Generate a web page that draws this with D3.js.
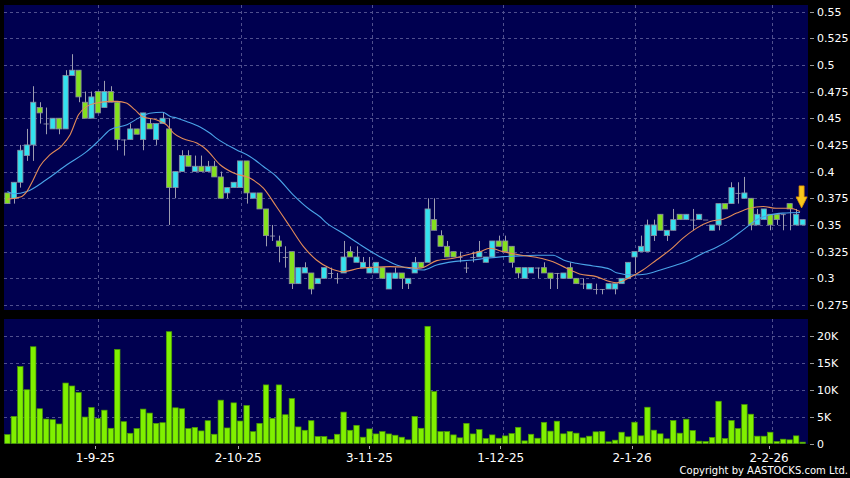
<!DOCTYPE html>
<html>
<head>
<meta charset="utf-8">
<script src="https://cdn.jsdelivr.net/npm/d3@7/dist/d3.min.js"></script>
<style>
  body { margin: 0; background: #000; }
  svg { display: block; }
</style>
</head>
<body>
<script>
// daily bars, oldest first
const opens = [
  .38, .375, .39, .415, .425, .46, .445, .44, .45, .44,
  .49, .495, .465, .45, .475, .46, .475, .465, .43, .43,
  .44, .43, .445, .43, .445, .44, .385, .4, .415, .4,
  .405, .4, .405, .395, .38, .385, .385, .41, .375, .38,
  .365, .34, .335, .32, .325, .295, .305, .305, .295, .3,
  .305, .3, .305, .325, .315, .31, .305, .305, .31, .29,
  .3, .305, .295, .305, .315, .315, .355, .34, .33, .325,
  .32, .31, .32, .32, .315, .32, .335, .335, .33, .31,
  .3, .305, .31, .31, .305, .305, .3, .31, .3, .295,
  .29, .29, .29, .29, .29, .295, .3, .32, .325, .325,
  .34, .36, .34, .345, .36, .355, .355, .355, .355, .345,
  .35, .37, .37, .38, .375, .375, .35, .355, .36, .36,
  .36, .37, .35, .35
]
const closes = [
  .37, .39, .42, .425, .465, .455, .445, .45, .44, .49,
  .495, .47, .45, .47, .455, .475, .465, .43, .43, .44,
  .435, .455, .44, .445, .45, .385, .4, .415, .405, .405,
  .4, .405, .395, .375, .385, .39, .41, .38, .38, .365,
  .34, .34, .33, .32, .295, .31, .31, .29, .3, .31,
  .305, .3, .32, .32, .32, .315, .31, .315, .3, .305,
  .305, .3, .3, .315, .31, .365, .345, .33, .32, .32,
  .32, .31, .32, .325, .32, .335, .33, .325, .315, .305,
  .31, .31, .31, .305, .3, .305, .305, .3, .295, .295,
  .295, .29, .29, .295, .295, .3, .315, .325, .33, .35,
  .35, .345, .345, .355, .355, .36, .355, .36, .355, .35,
  .37, .365, .385, .38, .38, .35, .36, .365, .35, .355,
  .36, .365, .36, .355
]
const highs = [
  .38, .39, .425, .44, .48, .465, .46, .45, .45, .495,
  .51, .495, .475, .475, .475, .485, .48, .465, .43, .445,
  .44, .455, .45, .445, .455, .45, .4, .42, .42, .415,
  .415, .41, .41, .4, .385, .39, .41, .41, .38, .38,
  .365, .35, .34, .33, .325, .31, .315, .305, .3, .31,
  .31, .305, .335, .33, .33, .32, .32, .315, .31, .305,
  .31, .305, .3, .32, .315, .375, .375, .345, .335, .325,
  .325, .315, .325, .335, .32, .335, .34, .34, .33, .31,
  .31, .31, .31, .315, .305, .305, .305, .315, .3, .3,
  .295, .295, .29, .295, .295, .3, .315, .325, .34, .355,
  .355, .36, .345, .365, .36, .36, .365, .36, .355, .35,
  .37, .37, .39, .39, .395, .375, .365, .365, .36, .36,
  .36, .37, .365, .355
]
const lows = [
  .37, .37, .385, .41, .41, .445, .435, .44, .435, .44,
  .49, .465, .45, .45, .455, .46, .465, .42, .415, .43,
  .435, .42, .44, .425, .445, .35, .375, .4, .405, .4,
  .4, .4, .395, .375, .375, .385, .385, .37, .375, .365,
  .33, .335, .315, .31, .29, .295, .305, .285, .295, .3,
  .3, .295, .305, .32, .315, .31, .305, .305, .3, .29,
  .3, .29, .29, .305, .31, .315, .345, .33, .32, .32,
  .315, .305, .315, .32, .315, .32, .33, .325, .31, .3,
  .3, .305, .3, .305, .29, .29, .3, .3, .295, .29,
  .29, .285, .285, .29, .285, .295, .3, .305, .325, .325,
  .335, .345, .335, .345, .355, .355, .345, .355, .355, .345,
  .345, .365, .37, .37, .375, .345, .35, .355, .345, .35,
  .345, .345, .35, .35
]
// volume, shares
const volumes = [
  1660, 5040, 14300, 10000, 18000, 6460, 4550, 4430, 3630, 11250,
  10700, 9470, 4920, 6700, 4670, 6200, 2830, 17500, 4060, 1900,
  2770, 6400, 5660, 3750, 3870, 20800, 6640, 6460, 2770, 3000,
  2340, 4240, 1720, 8060, 2890, 7560, 4180, 7070, 2200, 3750,
  10900, 4670, 10900, 5350, 8360, 3080, 2460, 4240, 1290, 1290,
  740, 1720, 5840, 2460, 3380, 1170, 2710, 1780, 2210, 1780,
  1540, 1170, 680, 5040, 2830, 21800, 9660, 2210, 2210, 1600,
  1050, 3750, 1780, 2580, 920, 1600, 980, 1410, 1850, 3010,
  490, 1720, 980, 3940, 2300, 4150, 1800, 2230, 1920, 1050,
  1360, 2170, 2230, 310, 620, 2100, 1240, 3960, 1420, 6750,
  2480, 1800, 870, 4270, 1920, 4520, 2410, 430, 370, 1110,
  7860, 930, 4270, 2790, 7240, 5450, 1360, 1360, 2100, 370,
  800, 680, 1420, 250
]
// moving averages, [bar index, value]
const ma10 = [
  [0, .3742], [2, .3761], [3, .3813], [4, .3923], [5, .4048], [6.6, .4158],
  [8.4, .4242], [9.7, .4346], [11, .4533], [12.3, .4611], [13.8, .4643],
  [15.9, .4658], [17, .4658], [18.4, .4643], [19.7, .458], [21, .4512],
  [23, .4486], [24.6, .4439], [25.7, .4361], [27.2, .4308], [29.3, .4267],
  [30.8, .4205], [32.9, .4064], [35, .3986], [37.5, .3939], [39.6, .3845],
  [41.6, .3673], [43.7, .3485], [45.8, .3297], [47.8, .3172], [49.9, .3094],
  [51.9, .3062], [54.5, .3094], [56.6, .3104], [59.2, .311], [61.7, .3104],
  [63.8, .3094], [66.4, .3166], [69, .3188], [71, .3219], [73.1, .325],
  [74.6, .3282], [76.7, .325], [79.3, .3219], [81.8, .3197], [84.4, .3156],
  [86.5, .3094], [88.5, .3041], [91.1, .3016], [93.2, .2969], [94.2, .2959],
  [96.3, .3009], [98.3, .3078], [100.4, .3172], [102.5, .3266], [104.5, .3376],
  [106.6, .347], [108.7, .3532], [110.7, .3554], [112.8, .3611], [114.8, .3657],
  [116.9, .3673], [118.9, .3657], [121, .3657], [122.6, .3626]
]
const ma20 = [
  [0, .3813], [1, .3792], [3, .3813], [6, .3923], [9.2, .4064], [12.3, .4189],
  [14.3, .4299], [15.9, .4392], [18.5, .4439], [20.5, .4508], [22, .4546],
  [24, .4556], [25.2, .4517], [26.2, .4502], [27.7, .447], [29.8, .4418],
  [31.3, .4361], [32.3, .4314], [35.4, .4205], [37.5, .4142], [39.6, .4048],
  [41.6, .3954], [44.2, .3782], [46.8, .3642], [48.3, .3579], [49.4, .3517],
  [51.9, .3423], [54.5, .3318], [57.6, .3203], [60.2, .3125], [62.8, .3085],
  [64.3, .3078], [66.4, .3125], [69, .3156], [72, .3172], [74.1, .3188],
  [76.7, .3203], [79.3, .321], [81.8, .3216], [84.4, .3216], [86, .3172],
  [88, .3141], [90.6, .3116], [93.2, .3085], [94.2, .3053], [96.8, .3031],
  [98.9, .3041], [101, .3078], [103, .3116], [105.6, .3172], [107.6, .3235],
  [109.7, .3291], [111.7, .336], [113.8, .3454], [115.9, .3548], [118, .3595],
  [120, .3611], [122.6, .3617]
]
const dateLabels = ["1-9-25", "2-10-25", "3-11-25", "1-12-25", "2-1-26", "2-2-26"]
const dateIdx = [14, 36.1, 56.4, 76.7, 97, 118.2]
const priceTicks = [0.275, 0.3, 0.325, 0.35, 0.375, 0.4, 0.425, 0.45, 0.475, 0.5, 0.525, 0.55]
const volTicks = [0, 5000, 10000, 15000, 20000]

const width = 850
const height = 478
const left = 4, right = 808
const priceTop = 5, priceBottom = 310
const volTop = 319, volBottom = 444

const svg = d3.select('body').append('svg')
    .attr('width', width)
    .attr('height', height)
    .style('font-family', '"DejaVu Sans", sans-serif')

svg.append('rect').attr('width', width).attr('height', height).attr('fill', '#000')

const x = d3.scaleLinear().domain([0, volumes.length - 1]).range([7.4, 802.6])
const y = d3.scaleLinear().domain([0.275, 0.55]).range([305, 11.5])
const yv = d3.scaleLinear().domain([0, 20000]).range([443.5, 336])

// panels
svg.append('rect')
    .attr('x', left).attr('y', priceTop)
    .attr('width', right - left).attr('height', priceBottom - priceTop)
    .attr('fill', '#000050')
svg.append('rect')
    .attr('x', left).attr('y', volTop)
    .attr('width', right - left).attr('height', volBottom - volTop)
    .attr('fill', '#000050')

const gridColor = '#50508e'

// horizontal grid + right tick dashes
const hGrid = (vals, scale) => {
    const g = svg.append('g')
    g.selectAll('line.grid')
        .data(vals)
        .enter().append('line')
        .attr('class', 'grid')
        .attr('x1', left).attr('x2', right)
        .attr('y1', d => Math.round(scale(d)) + 0.5).attr('y2', d => Math.round(scale(d)) + 0.5)
        .attr('stroke', gridColor).attr('stroke-dasharray', '3,3')
    g.selectAll('line.tick')
        .data(vals)
        .enter().append('line')
        .attr('class', 'tick')
        .attr('x1', 810).attr('x2', 814)
        .attr('y1', d => Math.round(scale(d)) + 0.5).attr('y2', d => Math.round(scale(d)) + 0.5)
        .attr('stroke', '#9a9a9a')
}
hGrid(priceTicks, y)
hGrid(volTicks.slice(1), yv)
svg.append('line').attr('x1', 810).attr('x2', 814)
    .attr('y1', Math.round(yv(0)) + 0.5).attr('y2', Math.round(yv(0)) + 0.5)
    .attr('stroke', '#9a9a9a')

// vertical grid, both panels
dateIdx.forEach(i => {
    const xx = Math.round(x(i)) + 0.5
    svg.append('line').attr('x1', xx).attr('x2', xx)
        .attr('y1', priceTop).attr('y2', priceBottom)
        .attr('stroke', gridColor).attr('stroke-dasharray', '3,3')
    svg.append('line').attr('x1', xx).attr('x2', xx)
        .attr('y1', volTop).attr('y2', volBottom)
        .attr('stroke', gridColor).attr('stroke-dasharray', '3,3')
})

// right axis labels
const fmtP = d => String(+d.toFixed(3))
svg.append('g').selectAll('text')
    .data(priceTicks)
    .enter().append('text')
    .attr('x', 817).attr('y', d => y(d) + 4)
    .attr('fill', '#fff').attr('font-size', 11)
    .text(fmtP)
svg.append('g').selectAll('text')
    .data(volTicks)
    .enter().append('text')
    .attr('x', 817).attr('y', d => yv(d) + 4)
    .attr('fill', '#fff').attr('font-size', 11)
    .text(d => d === 0 ? '0' : (d / 1000) + 'K')

// volume bars
const bw = 5.4
svg.append('g').selectAll('rect')
    .data(volumes)
    .enter().append('rect')
    .attr('x', (d, i) => x(i) - bw / 2)
    .attr('y', d => yv(d))
    .attr('width', bw)
    .attr('height', d => yv(0) - yv(d))
    .attr('fill', '#80f000')
    .attr('stroke', '#4a9c00').attr('stroke-width', 0.7)

// candles
const bars = d3.range(closes.length).map(i => ({
    i, o: opens[i], h: highs[i], l: lows[i], c: closes[i]
}))
const candle = svg.append('g').selectAll('g')
    .data(bars)
    .enter().append('g')
candle.append('line')
    .attr('x1', d => Math.round(x(d.i)) + 0.5).attr('x2', d => Math.round(x(d.i)) + 0.5)
    .attr('y1', d => y(d.h)).attr('y2', d => y(d.l))
    .attr('stroke', '#9c9cb0').attr('stroke-width', 1)
candle.append('rect')
    .attr('x', d => x(d.i) - 2.6)
    .attr('y', d => y(Math.max(d.o, d.c)))
    .attr('width', 5.2)
    .attr('height', d => Math.max(0.8, Math.abs(y(d.o) - y(d.c))))
    .attr('fill', d => d.c > d.o ? '#33e2ef' : d.c < d.o ? '#84e01e' : '#9c9cb0')
    .attr('stroke', '#8c8ca0').attr('stroke-width', d => d.c === d.o ? 0 : 0.8)

// moving averages
const maLine = d3.line()
    .x(d => x(d[0]))
    .y(d => y(d[1]))
    .curve(d3.curveMonotoneX)
svg.append('path').datum(ma20)
    .attr('d', maLine).attr('fill', 'none')
    .attr('stroke', '#4aa4e8').attr('stroke-width', 1.1)
svg.append('path').datum(ma10)
    .attr('d', maLine).attr('fill', 'none')
    .attr('stroke', '#e48c58').attr('stroke-width', 1.1)

// marker arrow over the last bar
const ax = x(volumes.length - 1) - 1, ay = y(0.366)
svg.append('path')
    .attr('d', `M${ax - 2.5},${ay - 22} h5 v11 h3 l-5.5,11 l-5.5,-11 h3 z`)
    .attr('fill', '#f8c81c').attr('stroke', '#e09000').attr('stroke-width', 0.8)

// date axis
svg.append('g').selectAll('line')
    .data(dateIdx)
    .enter().append('line')
    .attr('x1', d => Math.round(x(d)) - 2.5).attr('x2', d => Math.round(x(d)) - 2.5)
    .attr('y1', 446).attr('y2', 449)
    .attr('stroke', '#aaa')
svg.append('g').selectAll('text')
    .data(dateIdx)
    .enter().append('text')
    .attr('x', d => x(d) - 2.5).attr('y', 462)
    .attr('text-anchor', 'middle')
    .attr('fill', '#fff').attr('font-size', 12)
    .text((d, k) => dateLabels[k])

svg.append('text')
    .attr('x', 848).attr('y', 474)
    .attr('text-anchor', 'end')
    .attr('fill', '#fff').attr('font-size', 10)
    .text('Copyright by AASTOCKS.com Ltd.')
</script>
</body>
</html>
